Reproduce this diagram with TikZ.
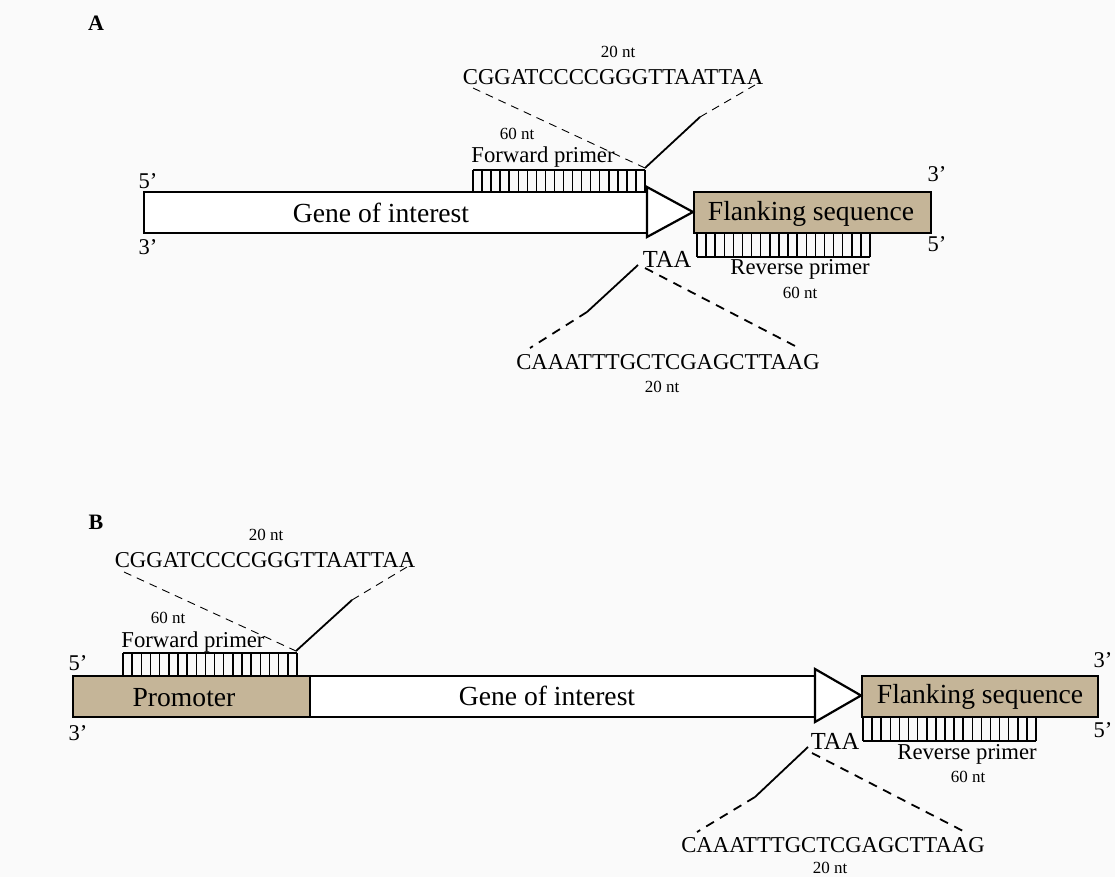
\documentclass[tikz,border=0pt]{standalone}
\usepackage{fontspec}
\setmainfont{Liberation Serif}
\definecolor{tanfill}{RGB}{197,181,152}
\definecolor{bgcol}{RGB}{250,250,250}
\begin{document}
\begin{tikzpicture}[x=1pt,y=-1pt,
  dnabox/.style={draw, line width=2.2pt, inner sep=0pt, minimum height=41pt, anchor=north west},
  whitebox/.style={dnabox, fill=white},
  tanbox/.style={dnabox, fill=tanfill},
  stopcodon/.style={draw, line width=2.2pt, fill=white, line join=miter},
  rung/.style={line width=1.5pt},
  lbl/.style={inner sep=0pt, font=\fontsize{27.6}{31}\selectfont},
  seq/.style={inner sep=0pt, font=\fontsize{22.7}{26}\selectfont},
  small/.style={inner sep=0pt, font=\fontsize{17}{20}\selectfont},
  endlbl/.style={inner sep=0pt, font=\fontsize{22.5}{26}\selectfont},
  taa/.style={inner sep=0pt, font=\fontsize{24.5}{28}\selectfont},
  panel/.style={inner sep=0pt, font=\fontsize{22}{26}\selectfont\bfseries},
  thindash/.style={line width=0.9pt, dash pattern=on 8pt off 6pt},
  thickdash/.style={line width=1.8pt, dash pattern=on 9pt off 7pt},
  solidline/.style={line width=1.8pt}]
\fill[bgcol] (0,0) rectangle (1115,877);
\useasboundingbox (0,0) rectangle (1115,877);

% ================= Panel A =================
\node[panel] (pA) at (96,23) {A};
% forward primer ladder
\foreach \i in {0,...,19} \draw[rung] ({473+\i*172/19},170) -- ({473+\i*172/19},191);
\draw[rung] (473,170) -- (645,170);
% reverse primer ladder
\foreach \i in {0,...,19} \draw[rung] ({697+\i*173/19},232) -- ({697+\i*173/19},257);
\draw[rung] (697,257) -- (870,257);
% boxes
\node[whitebox, minimum width=504pt] (geneA) at (143,191) {};
\node[tanbox, minimum width=237pt] (flankA) at (693,191) {};
\draw[stopcodon] (647,187) -- (693,212) -- (647,237) -- cycle;
% texts
\node[lbl] (geneAt) at (381,213) {Gene of interest};
\node[lbl] (flankAt) at (811,214) {Flanking sequence};
\node[endlbl] (fiveAl) at (148,181) {5’};
\node[endlbl] (threeAl) at (148,247) {3’};
\node[endlbl] (threeAr) at (937,174) {3’};
\node[endlbl] (fiveAr) at (937,244) {5’};
\node[seq] (fwdA) at (543,157) {Forward primer};
\node[small] (fwdntA) at (517,134) {60 nt};
\node[small] (tnA) at (618,52) {20 nt};
\node[seq] (seqA) at (613,77) {CGGATCCCCGGGTTAATTAA};
\node[taa] (taaA) at (667,259) {TAA};
\node[seq] (revA) at (800,269) {Reverse primer};
\node[small] (revntA) at (800,293) {60 nt};
\node[seq] (seqA2) at (668,362) {CAAATTTGCTCGAGCTTAAG};
\node[small] (tnA2) at (662,387) {20 nt};
% connectors
\coordinate (fA) at (645,168);
\coordinate (seqAl) at (473,88);
\coordinate (seqAr) at (755,85);
\coordinate (kA) at (700,117);
\draw[thindash] (seqAl) -- (fA);
\draw[solidline] (fA) -- (kA);
\draw[thindash] (kA) -- (seqAr);
\coordinate (taaAa) at (638,265);
\coordinate (taaAb) at (645,268);
\coordinate (kA2) at (587,312);
\coordinate (seqA2l) at (530,348);
\coordinate (seqA2r) at (797,347);
\draw[solidline] (taaAa) -- (kA2);
\draw[thickdash] (kA2) -- (seqA2l);
\draw[thickdash] (taaAb) -- (seqA2r);

% ================= Panel B =================
\node[panel] (pB) at (96,522) {B};
\foreach \i in {0,...,19} \draw[rung] ({123+\i*174/19},653) -- ({123+\i*174/19},675);
\draw[rung] (123,653) -- (297,653);
\foreach \i in {0,...,19} \draw[rung] ({863+\i*173/19},716) -- ({863+\i*173/19},741);
\draw[rung] (863,741) -- (1036,741);
\node[tanbox, minimum width=237pt] (promB) at (72,675) {};
\node[whitebox, minimum width=506pt] (geneB) at (309,675) {};
\node[tanbox, minimum width=236pt] (flankB) at (861,675) {};
\draw[stopcodon] (815,669) -- (861,695.5) -- (815,722) -- cycle;
\node[lbl] (promBt) at (184,697.5) {Promoter};
\node[lbl] (geneBt) at (547,696) {Gene of interest};
\node[lbl] (flankBt) at (980,697) {Flanking sequence};
\node[endlbl] (fiveBl) at (78,663) {5’};
\node[endlbl] (threeBl) at (78,733) {3’};
\node[endlbl] (threeBr) at (1103,660) {3’};
\node[endlbl] (fiveBr) at (1103,730) {5’};
\node[seq] (fwdB) at (193,642) {Forward primer};
\node[small] (fwdntB) at (168,618) {60 nt};
\node[small] (tnB) at (266,535) {20 nt};
\node[seq] (seqB) at (265,560) {CGGATCCCCGGGTTAATTAA};
\node[taa] (taaB) at (835,741) {TAA};
\node[seq] (revB) at (967,754) {Reverse primer};
\node[small] (revntB) at (968,777) {60 nt};
\node[seq] (seqB2) at (833,845) {CAAATTTGCTCGAGCTTAAG};
\node[small] (tnB2) at (830,868) {20 nt};
\coordinate (fB) at (296,651);
\coordinate (seqBl) at (124,572);
\coordinate (seqBr) at (407,567);
\coordinate (kB) at (352,600);
\draw[thindash] (seqBl) -- (fB);
\draw[solidline] (fB) -- (kB);
\draw[thindash] (kB) -- (seqBr);
\coordinate (taaBa) at (808,747);
\coordinate (taaBb) at (812,753);
\coordinate (kB2) at (755,797);
\coordinate (seqB2l) at (697,832);
\coordinate (seqB2r) at (965,832);
\draw[solidline] (taaBa) -- (kB2);
\draw[thickdash] (kB2) -- (seqB2l);
\draw[thickdash] (taaBb) -- (seqB2r);
\end{tikzpicture}
\end{document}
